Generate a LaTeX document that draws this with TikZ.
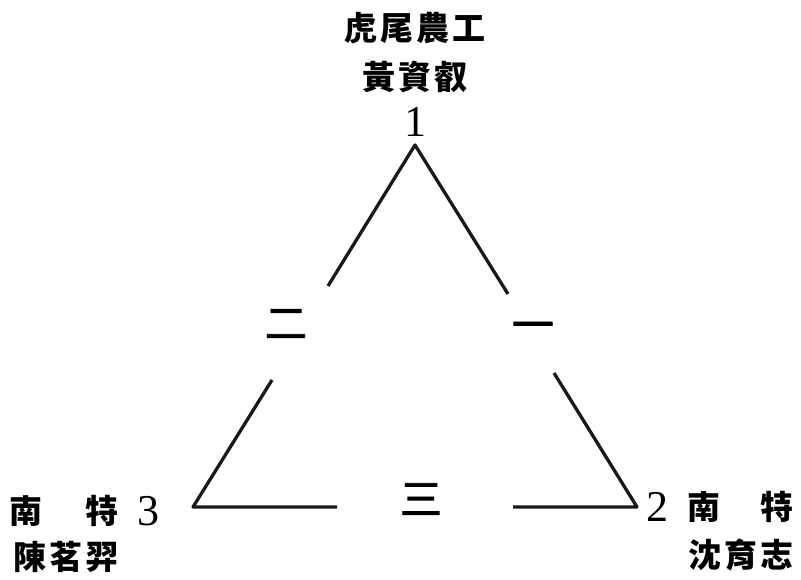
\documentclass[tikz,border=0pt]{standalone}
\usepackage{fontspec}
\newfontfamily\cjk{Noto Sans CJK TC}
\newfontfamily\cjklab{Noto Sans CJK TC}[FakeBold=2]
\newfontfamily\digitfont{Liberation Serif}
\newcommand{\gp}{\hspace{3pt}}
\begin{document}
\begin{tikzpicture}[x=1pt,y=-1pt,
  edge/.style={line width=3.3pt,black!90,line cap=butt,line join=round},
  persontext/.style={inner sep=0pt,font=\cjk\bfseries\fontsize{33}{33}\selectfont},
  numtext/.style={inner sep=0pt,font=\digitfont\fontsize{44}{44}\selectfont},
  labtext/.style={inner sep=0pt,font=\cjklab\fontsize{42}{42}\selectfont}]
\useasboundingbox (0,0) rectangle (801,580);
\coordinate (T) at (415,145);
\coordinate (BL) at (193,507);
\coordinate (BR) at (637,507);
\coordinate (L1) at (328,286);
\coordinate (L2) at (272,380);
\coordinate (R1) at (508,294);
\coordinate (R2) at (554,373);
\coordinate (B1) at (337,507);
\coordinate (B2) at (513,507);
\draw[edge] (L1) -- (T) -- (R1);
\draw[edge] (L2) -- (BL) -- (B1);
\draw[edge] (R2) -- (BR) -- (B2);
\node[persontext] (t1) at (415,28) {虎\gp 尾\gp 農\gp 工};
\node[persontext] (t2) at (415,77) {黃\gp 資\gp 叡};
\node[numtext] (n1) at (415,122) {1};
\node[persontext] (bl1) at (26,511) {南};
\node[persontext] (bl2) at (102,511) {特};
\node[numtext] (n3) at (148,511) {3};
\node[persontext] (bl3) at (66,557) {陳\gp 茗\gp 羿};
\node[numtext] (n2) at (657,507) {2};
\node[persontext] (br1) at (704,507) {南};
\node[persontext] (br2) at (777,507) {特};
\node[persontext] (br3) at (741,555) {沈\gp 育\gp 志};
\node[labtext] (e2) at (286,324) {二};
\node[labtext] (e1) at (533,331) {一};
\node[labtext] (e3) at (421,499) {三};
\end{tikzpicture}
\end{document}
